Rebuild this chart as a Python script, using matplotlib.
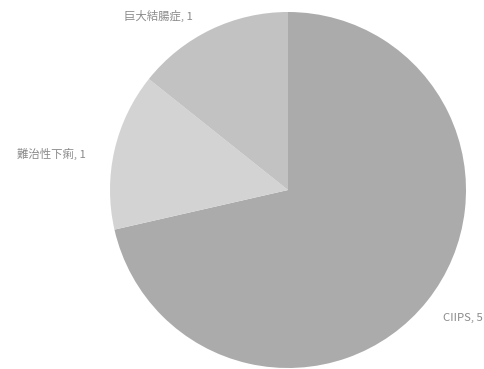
import matplotlib
matplotlib.use("Agg")
import matplotlib.pyplot as plt

plt.rcParams['font.family'] = ['Noto Sans CJK JP', 'DejaVu Sans']

labels = ['CIIPS', '難治性下痢', '巨大結腸症']
values = [5, 1, 1]
colors = ['#ababab', '#d3d3d3', '#c2c2c2']
# label anchor points (data units, pie radius = 1)
label_pos = [(0.98, -0.72), (-1.33, 0.20), (-0.73, 0.98)]

fig = plt.figure(figsize=(4.84, 3.69), dpi=100)
ax = fig.add_axes([110 / 484, 1 / 369, 356 / 484, 356 / 369])
ax.pie(values, colors=colors, startangle=90, counterclock=False,
       wedgeprops=dict(linewidth=0))
ax.set_xlim(-1, 1)
ax.set_ylim(-1, 1)
ax.set_aspect('equal')
ax.axis('off')

for name, v, (x, y) in zip(labels, values, label_pos):
    ax.text(x, y, f'{name}, {v}', ha='center', va='center',
            fontsize=8.2, color='#8a8a8a', clip_on=False)

fig.savefig('out.png', dpi=100)
